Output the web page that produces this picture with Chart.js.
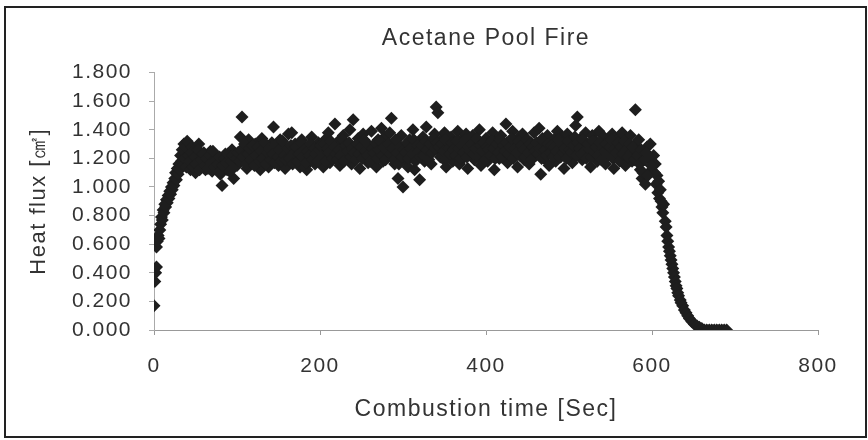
<!DOCTYPE html>
<html>
<head>
<meta charset="utf-8">
<script src="https://cdn.jsdelivr.net/npm/chart.js@4.4.1/dist/chart.umd.min.js"></script>
<style>
  body { margin: 0; background: #fff; }
  #wrap { width: 868px; height: 440px; position: relative; }
</style>
</head>
<body>
<div id="wrap"><canvas id="myChart"></canvas></div>
<script>
const chartTitle = "Acetane Pool Fire";
const xTitle = "Combustion time [Sec]";
const yTitle = "Heat flux [㎠]";

// combustion time (s) - even seconds, start-up and burn-out
const seconds = [
  0,1,2,3,3,4,5,6,7,8,9,10,11,12,13,14,15,16,17,18,19,20,
  21,22,23,24,25,26,27,28,29,30,31,32,33,34,35,36,37,38,39,40,
  42,44,46,48,50,52,54,56,58,60,
  62,64,66,68,70,72,74,76,78,80,
  82,84,86,88,90,92,94,96,98,100,
  102,104,106,108,110,112,114,116,118,120,
  122,124,126,128,130,132,134,136,138,140,
  142,144,146,148,150,152,154,156,158,160,
  162,164,166,168,170,172,174,176,178,180,
  182,184,186,188,190,192,194,196,198,200,
  202,204,206,208,210,212,214,216,218,220,
  222,224,226,228,230,232,234,236,238,240,
  242,244,246,248,250,252,254,256,258,260,
  262,264,266,268,270,272,274,276,278,280,
  282,284,286,288,290,292,294,296,298,300,
  302,304,306,308,310,312,314,316,318,320,
  322,324,326,328,330,332,334,336,338,340,
  342,344,346,348,350,352,354,356,358,360,
  362,364,366,368,370,372,374,376,378,380,
  382,384,386,388,390,392,394,396,398,400,
  402,404,406,408,410,412,414,416,418,420,
  422,424,426,428,430,432,434,436,438,440,
  442,444,446,448,450,452,454,456,458,460,
  462,464,466,468,470,472,474,476,478,480,
  482,484,486,488,490,492,494,496,498,500,
  502,504,506,508,510,512,514,516,518,520,
  522,524,526,528,530,532,534,536,538,540,
  542,544,546,548,550,552,554,556,558,560,
  562,564,566,568,570,572,574,576,578,580,
  582,584,586,588,590,592,594,596,598,600,
  602,603,604,605,606,607,608,609,610,611,612,613,614,616,617,618,619,620,
  621,622,623,624,625,626,627,628,629,630,631,632,634,635,637,639,641,643,
  645,648,651,654,657,660,663,666,669,672,675,678,681,684,687,690
];

// heat flux at the times above
const heatFlux = [
  0.17,0.34,0.40,0.44,0.58,0.62,0.66,0.64,0.70,0.74,0.79,0.77,0.84,0.82,0.88,0.86,0.91,0.89,0.94,0.92,0.97,0.95,
  1.00,0.98,1.03,1.01,1.06,1.10,1.05,1.13,1.09,1.16,1.12,1.22,1.18,1.26,1.15,1.30,1.20,1.28,1.14,1.32,
  1.22,1.12,1.28,1.16,1.10,1.20,1.30,1.14,1.18,1.24,
  1.12,1.19,1.15,1.25,1.11,1.17,1.22,1.13,1.20,1.09,
  1.01,1.16,1.23,1.12,1.18,1.14,1.26,1.06,1.19,1.15,
  1.24,1.35,1.49,1.20,1.28,1.13,1.33,1.17,1.25,1.21,
  1.30,1.16,1.27,1.12,1.34,1.22,1.18,1.29,1.14,1.24,
  1.31,1.42,1.20,1.26,1.15,1.33,1.19,1.28,1.13,1.23,
  1.37,1.25,1.38,1.17,1.30,1.21,1.27,1.14,1.33,1.20,
  1.24,1.12,1.29,1.18,1.35,1.22,1.16,1.27,1.31,1.19,
  1.26,1.14,1.33,1.23,1.38,1.17,1.29,1.21,1.44,1.25,
  1.32,1.15,1.27,1.36,1.19,1.30,1.24,1.40,1.16,1.47,
  1.28,1.21,1.34,1.13,1.26,1.37,1.20,1.31,1.17,1.25,
  1.39,1.22,1.29,1.14,1.33,1.24,1.41,1.18,1.35,1.27,
  1.21,1.38,1.48,1.25,1.16,1.31,1.06,1.23,1.36,1.00,
  1.19,1.29,1.14,1.33,1.26,1.40,1.12,1.22,1.30,1.05,
  1.27,1.35,1.18,1.42,1.24,1.31,1.16,1.28,1.37,1.56,
  1.52,1.25,1.33,1.20,1.38,1.14,1.29,1.23,1.35,1.18,
  1.31,1.26,1.39,1.16,1.28,1.34,1.21,1.37,1.13,1.30,
  1.24,1.36,1.19,1.32,1.27,1.40,1.15,1.29,1.22,1.34,
  1.18,1.31,1.25,1.38,1.12,1.27,1.33,1.20,1.36,1.23,
  1.29,1.44,1.17,1.32,1.26,1.39,1.21,1.30,1.14,1.35,
  1.24,1.37,1.19,1.28,1.33,1.16,1.31,1.25,1.38,1.22,
  1.29,1.41,1.09,1.34,1.20,1.27,1.36,1.15,1.30,1.24,
  1.33,1.18,1.39,1.26,1.21,1.35,1.13,1.29,1.37,1.23,
  1.31,1.17,1.27,1.43,1.49,1.24,1.34,1.19,1.30,1.38,
  1.22,1.28,1.14,1.36,1.25,1.32,1.18,1.39,1.27,1.21,
  1.35,1.16,1.29,1.33,1.23,1.37,1.13,1.30,1.26,1.34,
  1.20,1.38,1.24,1.15,1.31,1.27,1.36,1.18,1.29,1.54,
  1.25,1.33,1.12,1.06,1.20,1.02,1.28,1.10,1.30,1.18,
  1.22,1.10,1.16,1.02,1.08,0.96,1.04,0.92,0.98,0.90,0.86,0.82,0.88,0.76,0.72,0.66,0.62,0.58,
  0.55,0.52,0.49,0.46,0.43,0.40,0.37,0.34,0.31,0.29,0.26,0.24,0.21,0.19,0.17,0.14,0.12,0.10,
  0.08,0.06,0.04,0.03,0.02,0.01,0,0,0,0,0,0,0,0,0,0
];

// odd-second readings during the steady burn
const secondsOdd = [
  43,45,47,49,51,53,55,57,59,61,
  63,65,67,69,71,73,75,77,79,81,
  83,85,87,89,91,93,95,97,99,101,
  103,105,107,109,111,113,115,117,119,121,
  123,125,127,129,131,133,135,137,139,141,
  143,145,147,149,151,153,155,157,159,161,
  163,165,167,169,171,173,175,177,179,181,
  183,185,187,189,191,193,195,197,199,201,
  203,205,207,209,211,213,215,217,219,221,
  223,225,227,229,231,233,235,237,239,241,
  243,245,247,249,251,253,255,257,259,261,
  263,265,267,269,271,273,275,277,279,281,
  283,285,287,289,291,293,295,297,299,301,
  303,305,307,309,311,313,315,317,319,321,
  323,325,327,329,331,333,335,337,339,341,
  343,345,347,349,351,353,355,357,359,361,
  363,365,367,369,371,373,375,377,379,381,
  383,385,387,389,391,393,395,397,399,401,
  403,405,407,409,411,413,415,417,419,421,
  423,425,427,429,431,433,435,437,439,441,
  443,445,447,449,451,453,455,457,459,461,
  463,465,467,469,471,473,475,477,479,481,
  483,485,487,489,491,493,495,497,499,501,
  503,505,507,509,511,513,515,517,519,521,
  523,525,527,529,531,533,535,537,539,541,
  543,545,547,549,551,553,555,557,559,561,
  563,565,567,569,571,573,575,577,579,581,
  583,585,587,589,591,593,595,597,599
];

const heatFluxOdd = [
  1.18,1.24,1.14,1.21,1.16,1.26,1.12,1.19,1.23,1.15,
  1.20,1.13,1.22,1.17,1.25,1.14,1.19,1.16,1.21,1.12,
  1.15,1.20,1.17,1.23,1.11,1.18,1.22,1.14,1.20,1.24,
  1.18,1.26,1.21,1.30,1.16,1.23,1.27,1.19,1.29,1.15,
  1.22,1.28,1.18,1.25,1.20,1.31,1.16,1.24,1.27,1.19,
  1.23,1.17,1.29,1.21,1.26,1.18,1.32,1.22,1.19,1.27,
  1.20,1.29,1.16,1.24,1.28,1.18,1.23,1.31,1.21,1.26,
  1.17,1.25,1.22,1.30,1.19,1.27,1.23,1.18,1.26,1.29,
  1.21,1.30,1.18,1.27,1.24,1.32,1.20,1.28,1.23,1.19,
  1.26,1.22,1.33,1.18,1.29,1.25,1.31,1.21,1.27,1.24,
  1.19,1.30,1.23,1.28,1.20,1.33,1.25,1.22,1.29,1.18,
  1.27,1.24,1.31,1.20,1.26,1.32,1.22,1.28,1.19,1.25,
  1.30,1.23,1.27,1.19,1.33,1.24,1.16,1.28,1.21,1.26,
  1.24,1.31,1.20,1.27,1.23,1.33,1.18,1.29,1.25,1.21,
  1.29,1.22,1.32,1.26,1.19,1.30,1.24,1.34,1.27,1.31,
  1.28,1.21,1.30,1.25,1.33,1.20,1.27,1.23,1.31,1.26,
  1.22,1.32,1.27,1.20,1.29,1.24,1.33,1.21,1.28,1.25,
  1.30,1.23,1.27,1.34,1.21,1.29,1.25,1.31,1.19,1.28,
  1.26,1.22,1.32,1.27,1.20,1.30,1.24,1.33,1.21,1.29,
  1.25,1.31,1.23,1.28,1.34,1.20,1.27,1.24,1.32,1.22,
  1.29,1.26,1.21,1.33,1.24,1.30,1.19,1.28,1.25,1.31,
  1.23,1.27,1.20,1.32,1.26,1.22,1.30,1.24,1.29,1.21,
  1.28,1.25,1.33,1.21,1.30,1.24,1.27,1.20,1.32,1.26,
  1.24,1.29,1.35,1.22,1.31,1.27,1.23,1.33,1.25,1.20,
  1.30,1.26,1.21,1.32,1.24,1.28,1.22,1.31,1.19,1.27,
  1.25,1.30,1.22,1.28,1.33,1.20,1.27,1.24,1.31,1.18,
  1.28,1.23,1.32,1.26,1.21,1.30,1.24,1.28,1.19,1.25,
  1.22,1.16,1.26,1.10,1.19,1.24,1.08,1.21,1.15
];

const xTicks = [0, 200, 400, 600, 800];
const yTicks = [0, 0.2, 0.4, 0.6, 0.8, 1.0, 1.2, 1.4, 1.6, 1.8];

const points = seconds.map((t, i) => ({x: t, y: heatFlux[i]}))
  .concat(secondsOdd.map((t, i) => ({x: t, y: heatFluxOdd[i]})));

const textColor = "#333";
const fontFamily = "'Liberation Sans', Arial, sans-serif";

// wide letter spacing like the original print font
const spacing = {
  id: "spacing",
  beforeLayout(chart) { chart.ctx.letterSpacing = "1.5px"; },
  beforeDraw(chart) { chart.ctx.letterSpacing = "1.5px"; }
};

// outer frame
const frame = {
  id: "frame",
  afterDraw(chart) {
    const ctx = chart.ctx;
    ctx.save();
    ctx.strokeStyle = "#222";
    ctx.lineWidth = 2;
    ctx.strokeRect(5, 7, 861, 430);
    ctx.restore();
  }
};

new Chart("myChart", {
  type: "scatter",
  data: {
    datasets: [{
      label: "Heat flux",
      data: points,
      pointStyle: "rectRot",
      pointRadius: 6.5,
      pointBorderWidth: 0,
      backgroundColor: "#1e1e1e",
      borderColor: "#1e1e1e"
    }]
  },
  options: {
    responsive: true,
    maintainAspectRatio: false,
    animation: false,
    layout: {padding: {left: 10, right: 50, top: 0, bottom: 10}},
    plugins: {
      legend: {display: false},
      tooltip: {enabled: false},
      title: {
        display: true,
        text: chartTitle,
        fullSize: false,
        color: textColor,
        font: {family: fontFamily, size: 23, weight: "normal"},
        padding: {top: 25, bottom: 20}
      }
    },
    scales: {
      x: {
        type: "linear",
        min: 0,
        max: 800,
        afterBuildTicks: (axis) => { axis.ticks = xTicks.map(v => ({value: v})); },
        afterFit: (axis) => { axis.height = 100; },
        border: {color: "#999", width: 1},
        grid: {drawOnChartArea: false, tickLength: 5, color: "#999"},
        ticks: {
          color: textColor,
          padding: 19,
          autoSkip: false,
          maxRotation: 0,
          font: {family: fontFamily, size: 21}
        },
        title: {
          display: true,
          text: xTitle,
          color: textColor,
          font: {family: fontFamily, size: 23},
          padding: {top: 0, bottom: 7}
        }
      },
      y: {
        min: 0,
        max: 1.8,
        afterBuildTicks: (axis) => { axis.ticks = yTicks.map(v => ({value: v})); },
        afterFit: (axis) => { axis.width = 144; },
        border: {color: "#aaa", width: 1},
        grid: {drawOnChartArea: false, tickLength: 5, color: "#aaa"},
        ticks: {
          color: textColor,
          padding: 17,
          autoSkip: false,
          font: {family: fontFamily, size: 21},
          callback: (v) => v.toFixed(3)
        },
        title: {
          display: true,
          text: yTitle,
          color: textColor,
          font: {family: fontFamily, size: 22},
          padding: {top: 16, bottom: 0}
        }
      }
    }
  },
  plugins: [spacing, frame]
});
</script>
</body>
</html>
